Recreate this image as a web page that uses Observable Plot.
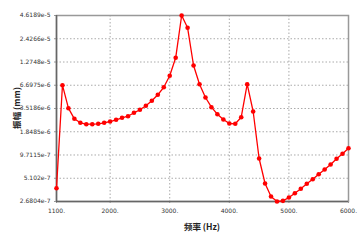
<!DOCTYPE html>
<html><head><meta charset="utf-8">
<script src="https://cdn.jsdelivr.net/npm/d3@7"></script>
<script src="https://cdn.jsdelivr.net/npm/@observablehq/plot@0.6"></script>
<style>
body{margin:0;background:#fff;}
#c{position:relative;width:363px;height:242px;}
</style></head><body><div id="c"></div>
<script>
const freqs = d3.range(1100, 6001, 100);
const amps = [3.87e-7,6.71e-6,3.55e-6,2.645e-6,2.368e-6,2.278e-6,2.278e-6,2.304e-6,2.368e-6,2.455e-6,
2.573e-6,2.72e-6,2.843e-6,3.124e-6,3.395e-6,3.792e-6,4.355e-6,5.14e-6,6.34e-6,8.70e-6,
1.432e-5,4.6189e-5,3.285e-5,1.157e-5,6.89e-6,4.77e-6,3.65e-6,3.004e-6,2.595e-6,2.323e-6,
2.304e-6,2.765e-6,6.89e-6,3.238e-6,8.815e-7,4.41e-7,3.077e-7,2.6804e-7,2.73e-7,2.993e-7,
3.373e-7,3.81e-7,4.375e-7,4.97e-7,5.706e-7,6.5e-7,7.47e-7,8.74e-7,1.004e-6,1.172e-6];
const yTicks = [2.6804e-7,5.102e-7,9.7115e-7,1.8485e-6,3.5186e-6,6.6975e-6,1.2748e-5,2.4266e-5,4.6189e-5];
const yTickLabels = ["2.6804e-7","5.102e-7","9.7115e-7","1.8485e-6","3.5186e-6","6.6975e-6","1.2748e-5","2.4266e-5","4.6189e-5"];
const xTicks = [1100,2000,3000,4000,5000,6000];
const xTickLabels = ["1100.","2000.","3000.","4000.","5000.","6000."];
const data = freqs.map((f,i)=>({f, a: amps[i]}));
const yLab = yTicks.map((v,i)=>({v, l: yTickLabels[i]}));
const xLab = xTicks.map((v,i)=>({v, l: xTickLabels[i]}));

const chart = Plot.plot({
  width: 363, height: 242,
  marginLeft: 56, marginRight: 15, marginTop: 15, marginBottom: 41,
  style: {fontFamily: "DejaVu Sans, sans-serif", fontSize: "6px", color: "#333", background: "#fff", overflow: "visible"},
  x: {domain: [1100, 6000], label: null},
  y: {type: "log", domain: [2.6804e-7, 4.6189e-5], label: null},
  marks: [
    Plot.gridX(xTicks, {stroke: "#aaa", strokeOpacity: 1, strokeDasharray: "1.5,2"}),
    Plot.gridY(yTicks, {stroke: "#aaa", strokeOpacity: 1, strokeDasharray: "1.5,2"}),
    Plot.frame({stroke: "#999", strokeWidth: 1.5}),
    Plot.axisX(xTicks, {tickSize: 2, stroke: "#999", text: null, label: null}),
    Plot.axisY(yTicks, {tickSize: 2, stroke: "#999", text: null, label: null}),
    Plot.text(xLab, {x: "v", text: "l", frameAnchor: "bottom", dy: 11, fontSize: 6, fill: "#333"}),
    Plot.text(yLab, {y: "v", text: "l", frameAnchor: "left", textAnchor: "end", dx: -6, fontSize: 6, fill: "#333"}),
    Plot.ruleX([1100], {stroke: "#666", strokeWidth: 1.5}),
    Plot.ruleY([2.6804e-7], {stroke: "#666", strokeWidth: 1.5}),
    Plot.line(data, {x: "f", y: "a", stroke: "#ff0000", strokeWidth: 1.3}),
    Plot.dot(data, {x: "f", y: "a", fill: "#ff0000", r: 2.3})
  ]
});
const c = document.getElementById("c");
c.appendChild(chart);
const svg = d3.select(chart);
svg.append("text").attr("x", 202).attr("y", 230).attr("text-anchor","middle")
  .attr("font-family","Noto Sans CJK SC, sans-serif").attr("font-size", 8.5).attr("font-weight","bold").attr("fill","#222")
  .text("频率 (Hz)");
svg.append("text").attr("transform","translate(20,108) rotate(-90)").attr("text-anchor","middle")
  .attr("font-family","Noto Sans CJK SC, sans-serif").attr("font-size", 8.5).attr("font-weight","bold").attr("fill","#222")
  .text("振幅 (mm)");
</script></body></html>
